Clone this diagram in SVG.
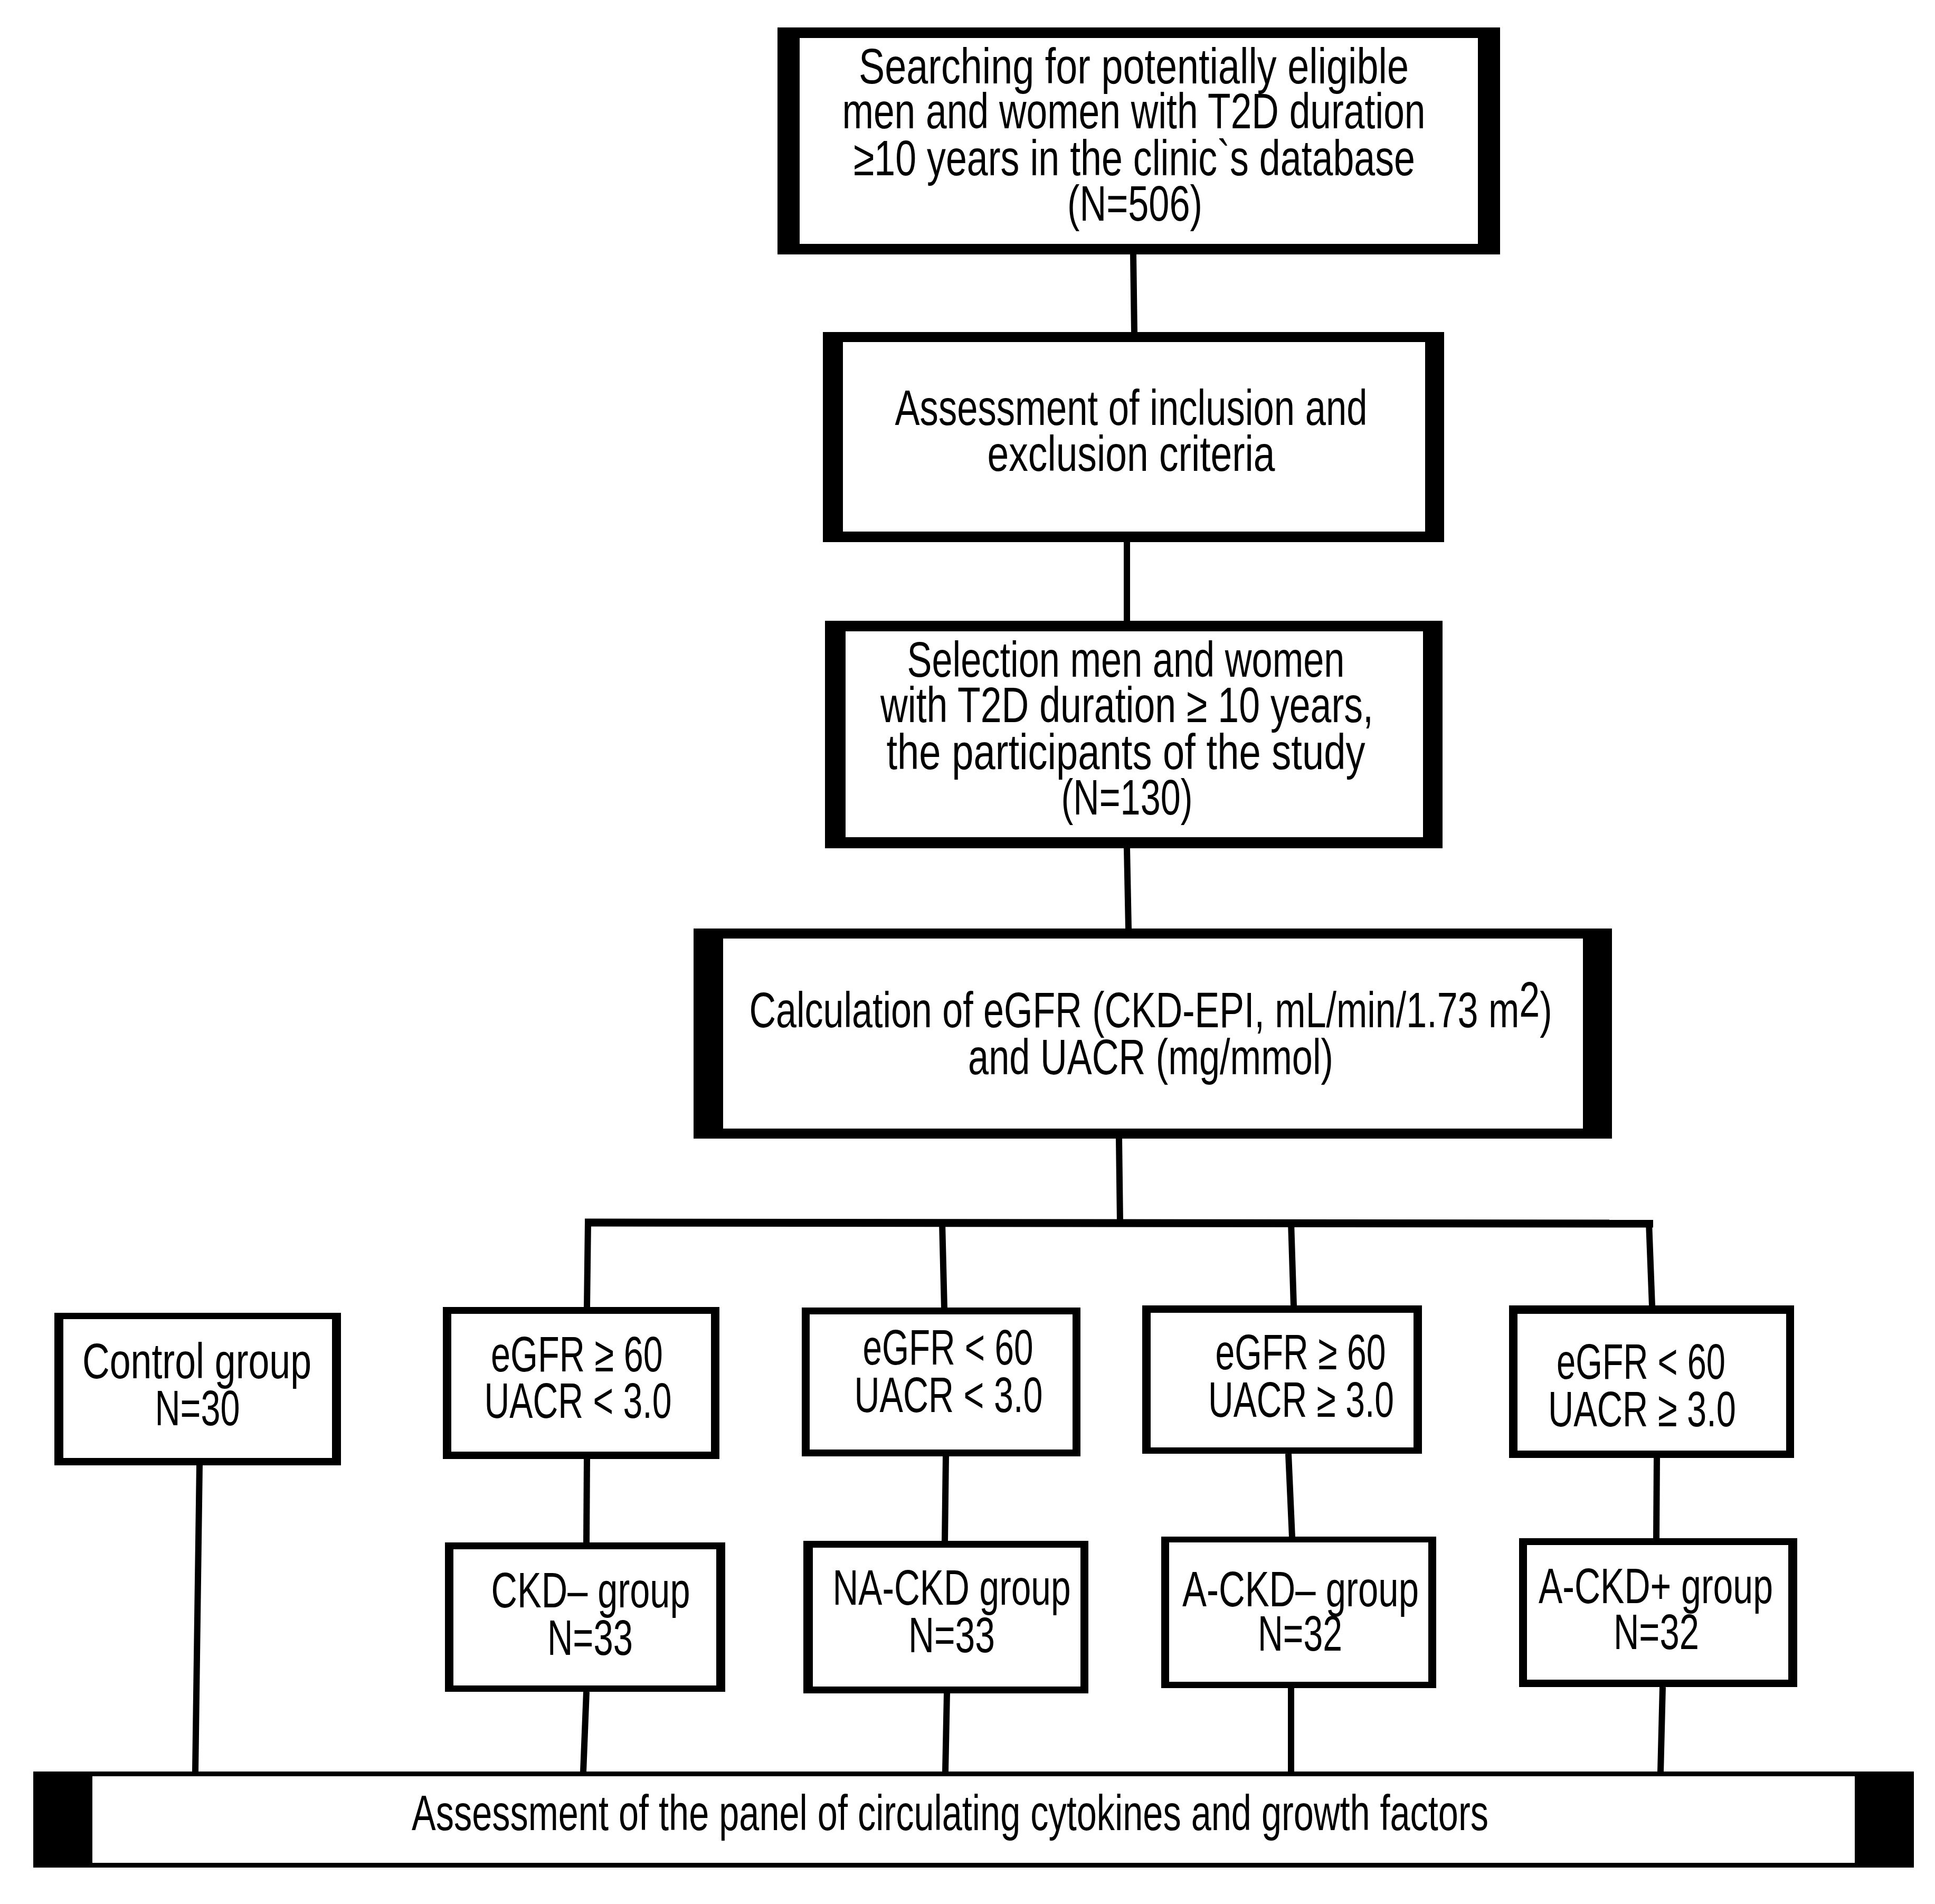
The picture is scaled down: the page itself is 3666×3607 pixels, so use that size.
<svg xmlns="http://www.w3.org/2000/svg" width="3666" height="3607" viewBox="0 0 3666 3607">
<style>
.o{fill:#000}
.i{fill:#fff}
.t{font-family:"Liberation Sans",Arial,sans-serif;font-size:95px;fill:#000;text-anchor:middle}
.c{stroke:#000;stroke-width:12;fill:none;stroke-linecap:butt}
</style>
<rect x="0" y="0" width="3666" height="3607" fill="#fff"/>
<g id="connectors">
<line class="c" x1="2147" y1="482" x2="2149" y2="629"/>
<line class="c" x1="2135" y1="1027" x2="2135" y2="1176"/>
<line class="c" x1="2135" y1="1607" x2="2138" y2="1759"/>
<line class="c" x1="2120" y1="2157" x2="2122" y2="2316"/>
<line class="c" x1="1108" y1="2316" x2="3132" y2="2318" style="stroke-width:15"/>
<line class="c" x1="1114" y1="2316" x2="1112" y2="2477"/>
<line class="c" x1="1785" y1="2316" x2="1789" y2="2478"/>
<line class="c" x1="2446" y1="2316" x2="2451" y2="2474"/>
<line class="c" x1="3124" y1="2316" x2="3130" y2="2474"/>
<line class="c" x1="378" y1="2776" x2="370" y2="3357"/>
<line class="c" x1="1112" y1="2764" x2="1111" y2="2923"/>
<line class="c" x1="1111" y1="3205" x2="1105" y2="3357"/>
<line class="c" x1="1792" y1="2759" x2="1790" y2="2920"/>
<line class="c" x1="1794" y1="3208" x2="1791" y2="3357"/>
<line class="c" x1="2441" y1="2754" x2="2448" y2="2912"/>
<line class="c" x1="2446" y1="3198" x2="2446" y2="3357"/>
<line class="c" x1="3139" y1="2762" x2="3138" y2="2915"/>
<line class="c" x1="3150" y1="3196" x2="3146" y2="3357"/>
</g>
<g id="box1">
<rect class="o" x="1473" y="52" width="1369" height="430"/>
<rect class="i" x="1515" y="72" width="1285" height="390"/>
<text class="t" x="2148" y="158" textLength="1042" lengthAdjust="spacingAndGlyphs">Searching for potentially eligible</text>
<text class="t" x="2148" y="243" textLength="1105" lengthAdjust="spacingAndGlyphs">men and women with T2D duration</text>
<text class="t" x="2149" y="332" textLength="1064" lengthAdjust="spacingAndGlyphs">≥10 years in the clinic`s database</text>
<text class="t" x="2150" y="418" textLength="256" lengthAdjust="spacingAndGlyphs">(N=506)</text>
</g>
<g id="box2">
<rect class="o" x="1559" y="629" width="1177" height="398"/>
<rect class="i" x="1597" y="648" width="1103" height="359"/>
<text class="t" x="2143" y="805" textLength="895" lengthAdjust="spacingAndGlyphs">Assessment of inclusion and</text>
<text class="t" x="2143" y="892" textLength="545" lengthAdjust="spacingAndGlyphs">exclusion criteria</text>
</g>
<g id="box3">
<rect class="o" x="1563" y="1176" width="1170" height="431"/>
<rect class="i" x="1602" y="1196" width="1094" height="390"/>
<text class="t" x="2133" y="1282" textLength="829" lengthAdjust="spacingAndGlyphs">Selection men and women</text>
<text class="t" x="2135" y="1368" textLength="934" lengthAdjust="spacingAndGlyphs">with T2D duration ≥ 10 years,</text>
<text class="t" x="2133" y="1457" textLength="907" lengthAdjust="spacingAndGlyphs">the participants of the study</text>
<text class="t" x="2135" y="1543" textLength="249" lengthAdjust="spacingAndGlyphs">(N=130)</text>
</g>
<g id="box4">
<rect class="o" x="1314" y="1759" width="1740" height="398"/>
<rect class="i" x="1370" y="1778" width="1629" height="360"/>
<text class="t" x="2180" y="1946" textLength="1521" lengthAdjust="spacingAndGlyphs">Calculation of eGFR (CKD-EPI, mL/min/1.73 m<tspan dy="-20">2</tspan><tspan dy="20">)</tspan></text>
<text class="t" x="2180" y="2035" textLength="692" lengthAdjust="spacingAndGlyphs">and UACR (mg/mmol)</text>
</g>
<g id="control">
<rect class="o" x="103" y="2487" width="543" height="289"/>
<rect class="i" x="120" y="2499" width="509" height="263"/>
<text class="t" x="373" y="2611" textLength="434" lengthAdjust="spacingAndGlyphs">Control group</text>
<text class="t" x="374" y="2700" textLength="161" lengthAdjust="spacingAndGlyphs">N=30</text>
</g>
<g id="crit1">
<rect class="o" x="839" y="2476" width="524" height="288"/>
<rect class="i" x="855" y="2489" width="492" height="261"/>
<text class="t" x="1093" y="2598" textLength="326" lengthAdjust="spacingAndGlyphs">eGFR ≥ 60</text>
<text class="t" x="1095" y="2686" textLength="355" lengthAdjust="spacingAndGlyphs">UACR &lt; 3.0</text>
</g>
<g id="ckdneg">
<rect class="o" x="843" y="2922" width="531" height="283"/>
<rect class="i" x="859" y="2935" width="498" height="258"/>
<text class="t" x="1119" y="3045" textLength="377" lengthAdjust="spacingAndGlyphs">CKD– group</text>
<text class="t" x="1118" y="3135" textLength="162" lengthAdjust="spacingAndGlyphs">N=33</text>
</g>
<g id="crit2">
<rect class="o" x="1519" y="2477" width="528" height="282"/>
<rect class="i" x="1534" y="2490" width="498" height="256"/>
<text class="t" x="1796" y="2585" textLength="323" lengthAdjust="spacingAndGlyphs">eGFR &lt; 60</text>
<text class="t" x="1797" y="2675" textLength="357" lengthAdjust="spacingAndGlyphs">UACR &lt; 3.0</text>
</g>
<g id="nackd">
<rect class="o" x="1522" y="2919" width="540" height="289"/>
<rect class="i" x="1540" y="2932" width="507" height="263"/>
<text class="t" x="1803" y="3040" textLength="451" lengthAdjust="spacingAndGlyphs">NA-CKD group</text>
<text class="t" x="1803" y="3130" textLength="164" lengthAdjust="spacingAndGlyphs">N=33</text>
</g>
<g id="crit3">
<rect class="o" x="2164" y="2473" width="530" height="281"/>
<rect class="i" x="2180" y="2487" width="498" height="255"/>
<text class="t" x="2464" y="2594" textLength="323" lengthAdjust="spacingAndGlyphs">eGFR ≥ 60</text>
<text class="t" x="2465" y="2684" textLength="352" lengthAdjust="spacingAndGlyphs">UACR ≥ 3.0</text>
</g>
<g id="ackdneg">
<rect class="o" x="2200" y="2911" width="521" height="287"/>
<rect class="i" x="2215" y="2922" width="491" height="264"/>
<text class="t" x="2464" y="3043" textLength="448" lengthAdjust="spacingAndGlyphs">A-CKD– group</text>
<text class="t" x="2463" y="3127" textLength="160" lengthAdjust="spacingAndGlyphs">N=32</text>
</g>
<g id="crit4">
<rect class="o" x="2859" y="2473" width="540" height="289"/>
<rect class="i" x="2875" y="2489" width="509" height="259"/>
<text class="t" x="3109" y="2612" textLength="320" lengthAdjust="spacingAndGlyphs">eGFR &lt; 60</text>
<text class="t" x="3111" y="2702" textLength="356" lengthAdjust="spacingAndGlyphs">UACR ≥ 3.0</text>
</g>
<g id="ackdpos">
<rect class="o" x="2878" y="2914" width="527" height="282"/>
<rect class="i" x="2893" y="2927" width="495" height="255"/>
<text class="t" x="3137" y="3037" textLength="444" lengthAdjust="spacingAndGlyphs">A-CKD+ group</text>
<text class="t" x="3138" y="3124" textLength="162" lengthAdjust="spacingAndGlyphs">N=32</text>
</g>
<g id="assessment">
<rect class="o" x="63" y="3356" width="3563" height="182"/>
<rect class="i" x="175" y="3365" width="3339" height="164"/>
<text class="t" x="1800" y="3467" textLength="2040" lengthAdjust="spacingAndGlyphs">Assessment of the panel of circulating cytokines and growth factors</text>
</g>
</svg>
